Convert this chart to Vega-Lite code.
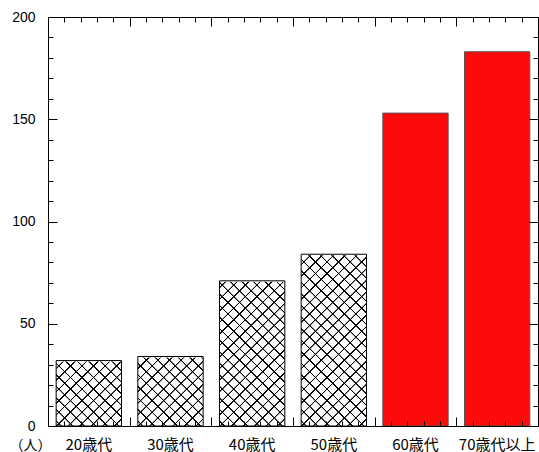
{
"$schema": "https://vega.github.io/schema/vega-lite/v6.json",
"width": 490,
"height": 409,
"autosize": {"type": "none"},
"padding": {"left": 48, "top": 17, "right": 1, "bottom": 26},
"background": "white",
"config": {"view": {"stroke": null}, "axis": {"zindex": 1, "labelOverlap": false, "grid": false}},
"data": {"values": [
{"age": "20歳代", "value": 32, "group": "60歳未満"},
{"age": "30歳代", "value": 34, "group": "60歳未満"},
{"age": "40歳代", "value": 71, "group": "60歳未満"},
{"age": "50歳代", "value": 84, "group": "60歳未満"},
{"age": "60歳代", "value": 153, "group": "60歳以上"},
{"age": "70歳代以上", "value": 183, "group": "60歳以上"}
]},
"resolve": {"scale": {"x": "independent"}, "axis": {"x": "independent", "y": "independent"}},
"layer": [
{
"encoding": {
"x": {"field": "age", "type": "nominal", "sort": null, "scale": {"paddingInner": 0.2, "paddingOuter": 0.1},
"axis": {"orient": "bottom", "ticks": false, "domain": false, "labelPadding": 11, "labelFont": "Noto Sans CJK JP", "labelFontSize": 15, "labelColor": "#000", "labelAngle": 0, "title": null, "zindex": 1}}
},
"layer": [
{
"transform": [{"filter": "datum.group === '60歳未満'"}],
"mark": {"type": "bar", "fill": {"gradient": "linear", "x1": 0, "y1": 0, "x2": 1, "y2": 6.26, "stops": [
{"offset":0.00153,"color":"transparent"},{"offset":0.001703,"color":"#000"},{"offset":0.002123,"color":"#000"},{"offset":0.002296,"color":"transparent"},
{"offset":0.005931,"color":"transparent"},{"offset":0.006104,"color":"#000"},{"offset":0.006524,"color":"#000"},{"offset":0.006697,"color":"transparent"},
{"offset":0.010332,"color":"transparent"},{"offset":0.010505,"color":"#000"},{"offset":0.010925,"color":"#000"},{"offset":0.011098,"color":"transparent"},
{"offset":0.014732,"color":"transparent"},{"offset":0.014905,"color":"#000"},{"offset":0.015325,"color":"#000"},{"offset":0.015498,"color":"transparent"},
{"offset":0.019133,"color":"transparent"},{"offset":0.019306,"color":"#000"},{"offset":0.019726,"color":"#000"},{"offset":0.019899,"color":"transparent"},
{"offset":0.023534,"color":"transparent"},{"offset":0.023707,"color":"#000"},{"offset":0.024127,"color":"#000"},{"offset":0.0243,"color":"transparent"},
{"offset":0.027935,"color":"transparent"},{"offset":0.028108,"color":"#000"},{"offset":0.028528,"color":"#000"},{"offset":0.028701,"color":"transparent"},
{"offset":0.032335,"color":"transparent"},{"offset":0.032508,"color":"#000"},{"offset":0.032928,"color":"#000"},{"offset":0.033101,"color":"transparent"},
{"offset":0.036736,"color":"transparent"},{"offset":0.036909,"color":"#000"},{"offset":0.037329,"color":"#000"},{"offset":0.037502,"color":"transparent"},
{"offset":0.041137,"color":"transparent"},{"offset":0.04131,"color":"#000"},{"offset":0.04173,"color":"#000"},{"offset":0.041903,"color":"transparent"},
{"offset":0.045537,"color":"transparent"},{"offset":0.04571,"color":"#000"},{"offset":0.04613,"color":"#000"},{"offset":0.046303,"color":"transparent"},
{"offset":0.049938,"color":"transparent"},{"offset":0.050111,"color":"#000"},{"offset":0.050531,"color":"#000"},{"offset":0.050704,"color":"transparent"},
{"offset":0.054339,"color":"transparent"},{"offset":0.054512,"color":"#000"},{"offset":0.054932,"color":"#000"},{"offset":0.055105,"color":"transparent"},
{"offset":0.05874,"color":"transparent"},{"offset":0.058913,"color":"#000"},{"offset":0.059333,"color":"#000"},{"offset":0.059506,"color":"transparent"},
{"offset":0.06314,"color":"transparent"},{"offset":0.063313,"color":"#000"},{"offset":0.063733,"color":"#000"},{"offset":0.063906,"color":"transparent"},
{"offset":0.067541,"color":"transparent"},{"offset":0.067714,"color":"#000"},{"offset":0.068134,"color":"#000"},{"offset":0.068307,"color":"transparent"},
{"offset":0.071942,"color":"transparent"},{"offset":0.072115,"color":"#000"},{"offset":0.072535,"color":"#000"},{"offset":0.072708,"color":"transparent"},
{"offset":0.076342,"color":"transparent"},{"offset":0.076515,"color":"#000"},{"offset":0.076935,"color":"#000"},{"offset":0.077108,"color":"transparent"},
{"offset":0.080743,"color":"transparent"},{"offset":0.080916,"color":"#000"},{"offset":0.081336,"color":"#000"},{"offset":0.081509,"color":"transparent"},
{"offset":0.085144,"color":"transparent"},{"offset":0.085317,"color":"#000"},{"offset":0.085737,"color":"#000"},{"offset":0.08591,"color":"transparent"},
{"offset":0.089544,"color":"transparent"},{"offset":0.089717,"color":"#000"},{"offset":0.090137,"color":"#000"},{"offset":0.09031,"color":"transparent"},
{"offset":0.093945,"color":"transparent"},{"offset":0.094118,"color":"#000"},{"offset":0.094538,"color":"#000"},{"offset":0.094711,"color":"transparent"},
{"offset":0.098346,"color":"transparent"},{"offset":0.098519,"color":"#000"},{"offset":0.098939,"color":"#000"},{"offset":0.099112,"color":"transparent"},
{"offset":0.102747,"color":"transparent"},{"offset":0.10292,"color":"#000"},{"offset":0.10334,"color":"#000"},{"offset":0.103513,"color":"transparent"},
{"offset":0.107147,"color":"transparent"},{"offset":0.10732,"color":"#000"},{"offset":0.10774,"color":"#000"},{"offset":0.107913,"color":"transparent"},
{"offset":0.111548,"color":"transparent"},{"offset":0.111721,"color":"#000"},{"offset":0.112141,"color":"#000"},{"offset":0.112314,"color":"transparent"},
{"offset":0.115949,"color":"transparent"},{"offset":0.116122,"color":"#000"},{"offset":0.116542,"color":"#000"},{"offset":0.116715,"color":"transparent"},
{"offset":0.120349,"color":"transparent"},{"offset":0.120522,"color":"#000"},{"offset":0.120942,"color":"#000"},{"offset":0.121115,"color":"transparent"},
{"offset":0.12475,"color":"transparent"},{"offset":0.124923,"color":"#000"},{"offset":0.125343,"color":"#000"},{"offset":0.125516,"color":"transparent"},
{"offset":0.129151,"color":"transparent"},{"offset":0.129324,"color":"#000"},{"offset":0.129744,"color":"#000"},{"offset":0.129917,"color":"transparent"},
{"offset":0.133552,"color":"transparent"},{"offset":0.133725,"color":"#000"},{"offset":0.134145,"color":"#000"},{"offset":0.134318,"color":"transparent"},
{"offset":0.137952,"color":"transparent"},{"offset":0.138125,"color":"#000"},{"offset":0.138545,"color":"#000"},{"offset":0.138718,"color":"transparent"},
{"offset":0.142353,"color":"transparent"},{"offset":0.142526,"color":"#000"},{"offset":0.142946,"color":"#000"},{"offset":0.143119,"color":"transparent"},
{"offset":0.146754,"color":"transparent"},{"offset":0.146927,"color":"#000"},{"offset":0.147347,"color":"#000"},{"offset":0.14752,"color":"transparent"},
{"offset":0.151154,"color":"transparent"},{"offset":0.151327,"color":"#000"},{"offset":0.151747,"color":"#000"},{"offset":0.15192,"color":"transparent"},
{"offset":0.155555,"color":"transparent"},{"offset":0.155728,"color":"#000"},{"offset":0.156148,"color":"#000"},{"offset":0.156321,"color":"transparent"},
{"offset":0.159956,"color":"transparent"},{"offset":0.160129,"color":"#000"},{"offset":0.160549,"color":"#000"},{"offset":0.160722,"color":"transparent"},
{"offset":0.164356,"color":"transparent"},{"offset":0.164529,"color":"#000"},{"offset":0.164949,"color":"#000"},{"offset":0.165122,"color":"transparent"},
{"offset":0.168757,"color":"transparent"},{"offset":0.16893,"color":"#000"},{"offset":0.16935,"color":"#000"},{"offset":0.169523,"color":"transparent"},
{"offset":0.173158,"color":"transparent"},{"offset":0.173331,"color":"#000"},{"offset":0.173751,"color":"#000"},{"offset":0.173924,"color":"transparent"},
{"offset":0.177559,"color":"transparent"},{"offset":0.177732,"color":"#000"},{"offset":0.178152,"color":"#000"},{"offset":0.178325,"color":"transparent"}
]}},
"encoding": {
"y": {"datum": 200, "type": "quantitative", "scale": {"domain": [0, 200], "nice": false}, "axis": null},
"y2": {"datum": 0}
}
},
{
"transform": [{"filter": "datum.group === '60歳未満'"}],
"mark": {"type": "bar", "fill": {"gradient": "linear", "x1": 0, "y1": 1, "x2": 1, "y2": -5.26, "stops": [
{"offset":0.00153,"color":"transparent"},{"offset":0.001703,"color":"#000"},{"offset":0.002123,"color":"#000"},{"offset":0.002296,"color":"transparent"},
{"offset":0.005931,"color":"transparent"},{"offset":0.006104,"color":"#000"},{"offset":0.006524,"color":"#000"},{"offset":0.006697,"color":"transparent"},
{"offset":0.010332,"color":"transparent"},{"offset":0.010505,"color":"#000"},{"offset":0.010925,"color":"#000"},{"offset":0.011098,"color":"transparent"},
{"offset":0.014732,"color":"transparent"},{"offset":0.014905,"color":"#000"},{"offset":0.015325,"color":"#000"},{"offset":0.015498,"color":"transparent"},
{"offset":0.019133,"color":"transparent"},{"offset":0.019306,"color":"#000"},{"offset":0.019726,"color":"#000"},{"offset":0.019899,"color":"transparent"},
{"offset":0.023534,"color":"transparent"},{"offset":0.023707,"color":"#000"},{"offset":0.024127,"color":"#000"},{"offset":0.0243,"color":"transparent"},
{"offset":0.027935,"color":"transparent"},{"offset":0.028108,"color":"#000"},{"offset":0.028528,"color":"#000"},{"offset":0.028701,"color":"transparent"},
{"offset":0.032335,"color":"transparent"},{"offset":0.032508,"color":"#000"},{"offset":0.032928,"color":"#000"},{"offset":0.033101,"color":"transparent"},
{"offset":0.036736,"color":"transparent"},{"offset":0.036909,"color":"#000"},{"offset":0.037329,"color":"#000"},{"offset":0.037502,"color":"transparent"},
{"offset":0.041137,"color":"transparent"},{"offset":0.04131,"color":"#000"},{"offset":0.04173,"color":"#000"},{"offset":0.041903,"color":"transparent"},
{"offset":0.045537,"color":"transparent"},{"offset":0.04571,"color":"#000"},{"offset":0.04613,"color":"#000"},{"offset":0.046303,"color":"transparent"},
{"offset":0.049938,"color":"transparent"},{"offset":0.050111,"color":"#000"},{"offset":0.050531,"color":"#000"},{"offset":0.050704,"color":"transparent"},
{"offset":0.054339,"color":"transparent"},{"offset":0.054512,"color":"#000"},{"offset":0.054932,"color":"#000"},{"offset":0.055105,"color":"transparent"},
{"offset":0.05874,"color":"transparent"},{"offset":0.058913,"color":"#000"},{"offset":0.059333,"color":"#000"},{"offset":0.059506,"color":"transparent"},
{"offset":0.06314,"color":"transparent"},{"offset":0.063313,"color":"#000"},{"offset":0.063733,"color":"#000"},{"offset":0.063906,"color":"transparent"},
{"offset":0.067541,"color":"transparent"},{"offset":0.067714,"color":"#000"},{"offset":0.068134,"color":"#000"},{"offset":0.068307,"color":"transparent"},
{"offset":0.071942,"color":"transparent"},{"offset":0.072115,"color":"#000"},{"offset":0.072535,"color":"#000"},{"offset":0.072708,"color":"transparent"},
{"offset":0.076342,"color":"transparent"},{"offset":0.076515,"color":"#000"},{"offset":0.076935,"color":"#000"},{"offset":0.077108,"color":"transparent"},
{"offset":0.080743,"color":"transparent"},{"offset":0.080916,"color":"#000"},{"offset":0.081336,"color":"#000"},{"offset":0.081509,"color":"transparent"},
{"offset":0.085144,"color":"transparent"},{"offset":0.085317,"color":"#000"},{"offset":0.085737,"color":"#000"},{"offset":0.08591,"color":"transparent"},
{"offset":0.089544,"color":"transparent"},{"offset":0.089717,"color":"#000"},{"offset":0.090137,"color":"#000"},{"offset":0.09031,"color":"transparent"},
{"offset":0.093945,"color":"transparent"},{"offset":0.094118,"color":"#000"},{"offset":0.094538,"color":"#000"},{"offset":0.094711,"color":"transparent"},
{"offset":0.098346,"color":"transparent"},{"offset":0.098519,"color":"#000"},{"offset":0.098939,"color":"#000"},{"offset":0.099112,"color":"transparent"},
{"offset":0.102747,"color":"transparent"},{"offset":0.10292,"color":"#000"},{"offset":0.10334,"color":"#000"},{"offset":0.103513,"color":"transparent"},
{"offset":0.107147,"color":"transparent"},{"offset":0.10732,"color":"#000"},{"offset":0.10774,"color":"#000"},{"offset":0.107913,"color":"transparent"},
{"offset":0.111548,"color":"transparent"},{"offset":0.111721,"color":"#000"},{"offset":0.112141,"color":"#000"},{"offset":0.112314,"color":"transparent"},
{"offset":0.115949,"color":"transparent"},{"offset":0.116122,"color":"#000"},{"offset":0.116542,"color":"#000"},{"offset":0.116715,"color":"transparent"},
{"offset":0.120349,"color":"transparent"},{"offset":0.120522,"color":"#000"},{"offset":0.120942,"color":"#000"},{"offset":0.121115,"color":"transparent"},
{"offset":0.12475,"color":"transparent"},{"offset":0.124923,"color":"#000"},{"offset":0.125343,"color":"#000"},{"offset":0.125516,"color":"transparent"},
{"offset":0.129151,"color":"transparent"},{"offset":0.129324,"color":"#000"},{"offset":0.129744,"color":"#000"},{"offset":0.129917,"color":"transparent"},
{"offset":0.133552,"color":"transparent"},{"offset":0.133725,"color":"#000"},{"offset":0.134145,"color":"#000"},{"offset":0.134318,"color":"transparent"},
{"offset":0.137952,"color":"transparent"},{"offset":0.138125,"color":"#000"},{"offset":0.138545,"color":"#000"},{"offset":0.138718,"color":"transparent"},
{"offset":0.142353,"color":"transparent"},{"offset":0.142526,"color":"#000"},{"offset":0.142946,"color":"#000"},{"offset":0.143119,"color":"transparent"},
{"offset":0.146754,"color":"transparent"},{"offset":0.146927,"color":"#000"},{"offset":0.147347,"color":"#000"},{"offset":0.14752,"color":"transparent"},
{"offset":0.151154,"color":"transparent"},{"offset":0.151327,"color":"#000"},{"offset":0.151747,"color":"#000"},{"offset":0.15192,"color":"transparent"},
{"offset":0.155555,"color":"transparent"},{"offset":0.155728,"color":"#000"},{"offset":0.156148,"color":"#000"},{"offset":0.156321,"color":"transparent"},
{"offset":0.159956,"color":"transparent"},{"offset":0.160129,"color":"#000"},{"offset":0.160549,"color":"#000"},{"offset":0.160722,"color":"transparent"},
{"offset":0.164356,"color":"transparent"},{"offset":0.164529,"color":"#000"},{"offset":0.164949,"color":"#000"},{"offset":0.165122,"color":"transparent"},
{"offset":0.168757,"color":"transparent"},{"offset":0.16893,"color":"#000"},{"offset":0.16935,"color":"#000"},{"offset":0.169523,"color":"transparent"},
{"offset":0.173158,"color":"transparent"},{"offset":0.173331,"color":"#000"},{"offset":0.173751,"color":"#000"},{"offset":0.173924,"color":"transparent"},
{"offset":0.177559,"color":"transparent"},{"offset":0.177732,"color":"#000"},{"offset":0.178152,"color":"#000"},{"offset":0.178325,"color":"transparent"}
]}},
"encoding": {
"y": {"datum": 200, "type": "quantitative", "scale": {"domain": [0, 200], "nice": false}, "axis": null},
"y2": {"datum": 0}
}
},
{
"transform": [{"filter": "datum.group === '60歳未満'"}],
"mark": {"type": "bar", "fill": "white", "stroke": "white", "strokeWidth": 2},
"encoding": {
"y": {"field": "value", "type": "quantitative", "scale": {"domain": [0, 200], "nice": false}, "axis": null},
"y2": {"datum": 200}
}
},
{
"mark": {"type": "bar", "strokeWidth": 1},
"encoding": {
"y": {"field": "value", "type": "quantitative", "scale": {"domain": [0, 200], "nice": false}, "axis": null},
"fill": {"condition": {"test": "datum.group === '60歳未満'", "value": "transparent"}, "value": "#ff0a0a"},
"stroke": {"condition": {"test": "datum.group === '60歳未満'", "value": "#000"}, "value": "#555"}
}
}
]
},
{
"mark": {"type": "point", "opacity": 0},
"encoding": {
"x": {"datum": 0, "type": "quantitative", "scale": {"domain": [0, 6], "nice": false, "zero": false},
"axis": {"orient": "top", "values": [0,0.2,0.4,0.6,0.8,1,1.2,1.4,1.6,1.8,2,2.2,2.4,2.6,2.8,3,3.2,3.4,3.6,3.8,4,4.2,4.4,4.6,4.8,5,5.2,5.4,5.6,5.8,6],
"labels": false, "tickSize": {"condition": {"test": "datum.value % 1 === 0", "value": -9}, "value": -5}, "tickColor": "#000", "domainColor": "#000", "grid": false, "title": null, "zindex": 1}},
"y": {"datum": 0, "type": "quantitative", "scale": {"domain": [0, 200], "nice": false},
"axis": {"orient": "right", "values": [0,10,20,30,40,50,60,70,80,90,100,110,120,130,140,150,160,170,180,190,200],
"labels": false, "tickSize": {"condition": {"test": "datum.value % 50 === 0", "value": -9}, "value": -5}, "tickColor": "#000", "domainColor": "#000", "grid": false, "title": null, "zindex": 1}}
}
},
{
"mark": {"type": "point", "opacity": 0},
"encoding": {
"x": {"datum": 0, "type": "quantitative", "scale": {"domain": [0, 6], "nice": false, "zero": false},
"axis": {"orient": "bottom", "values": [0,0.2,0.4,0.6,0.8,1,1.2,1.4,1.6,1.8,2,2.2,2.4,2.6,2.8,3,3.2,3.4,3.6,3.8,4,4.2,4.4,4.6,4.8,5,5.2,5.4,5.6,5.8,6],
"labels": false, "tickSize": {"condition": {"test": "datum.value % 1 === 0", "value": -9}, "value": -5}, "tickColor": "#000", "domainColor": "#000", "grid": false, "title": null, "zindex": 1}},
"y": {"datum": 0, "type": "quantitative", "scale": {"domain": [0, 200], "nice": false},
"axis": {"orient": "left", "values": [0,10,20,30,40,50,60,70,80,90,100,110,120,130,140,150,160,170,180,190,200],
"labelExpr": "datum.value % 50 === 0 ? datum.label : ''", "labelOverlap": false, "labelFont": "Liberation Sans", "labelFontSize": 14, "labelColor": "#000", "labelPadding": 22,
"tickSize": {"condition": {"test": "datum.value % 50 === 0", "value": -9}, "value": -5}, "tickColor": "#000", "tickWidth": 1, "domainColor": "#000", "domainWidth": 1, "grid": false,
"title": "（人）", "titleAngle": 0, "titleX": -18, "titleY": 428, "titleAlign": "center", "titleBaseline": "middle", "titleFont": "Noto Sans CJK JP", "titleFontSize": 14, "titleFontWeight": "normal", "titleColor": "#000", "zindex": 1}}
}
}
]
}
